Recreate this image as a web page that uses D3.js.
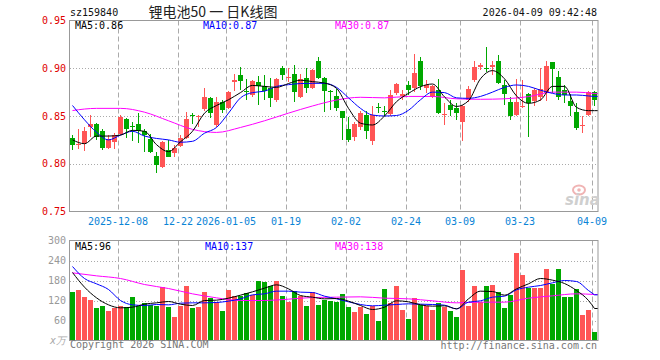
<!DOCTYPE html>
<html>
<meta charset="utf-8" />
<script src="https://d3js.org/d3.v7.min.js"></script>
<style>
  body { margin: 0; background: #fff; }
  text { font-family: "DejaVu Sans Mono", monospace; font-size: 10px; }
</style>
<body>
<svg id="chart" width="660" height="360"></svg>
<script>
// trading days shown on the chart
var dates = [
  "2025-11-26","2025-11-27","2025-11-28","2025-12-01","2025-12-02","2025-12-03","2025-12-04","2025-12-05",
  "2025-12-08","2025-12-09","2025-12-10","2025-12-11","2025-12-12","2025-12-15","2025-12-16","2025-12-17",
  "2025-12-18","2025-12-19","2025-12-22","2025-12-23","2025-12-24","2025-12-25","2025-12-26","2025-12-29",
  "2025-12-30","2025-12-31","2026-01-05","2026-01-06","2026-01-07","2026-01-08","2026-01-09","2026-01-12",
  "2026-01-13","2026-01-14","2026-01-15","2026-01-16","2026-01-19","2026-01-20","2026-01-21","2026-01-22",
  "2026-01-23","2026-01-26","2026-01-27","2026-01-28","2026-01-29","2026-01-30","2026-02-02","2026-02-03",
  "2026-02-04","2026-02-05","2026-02-06","2026-02-09","2026-02-10","2026-02-11","2026-02-12","2026-02-13",
  "2026-02-24","2026-02-25","2026-02-26","2026-02-27","2026-03-02","2026-03-03","2026-03-04","2026-03-05",
  "2026-03-06","2026-03-09","2026-03-10","2026-03-11","2026-03-12","2026-03-13","2026-03-16","2026-03-17",
  "2026-03-18","2026-03-19","2026-03-20","2026-03-23","2026-03-24","2026-03-25","2026-03-26","2026-03-27",
  "2026-03-30","2026-03-31","2026-04-01","2026-04-02","2026-04-03","2026-04-07","2026-04-08","2026-04-09"
]

var open = [0.827,0.820,0.8215,0.839,0.842,0.834,0.817,0.823,0.831,0.847,0.840,0.842,0.834,0.8255,0.808,0.797,
  0.8144,0.811,0.819,0.8273,0.8507,0.849,0.8573,0.8692,0.8406,0.8643,0.858,0.886,0.8929,0.8758,0.872,0.886,
  0.881,0.879,0.8668,0.900,0.8895,0.8945,0.8703,0.8894,0.879,0.9076,0.8901,0.8765,0.871,0.8553,0.8364,0.8284,
  0.8388,0.851,0.8235,0.8595,0.8555,0.852,0.8737,0.871,0.8825,0.879,0.908,0.879,0.8703,0.877,0.8515,0.8615,
  0.8587,0.8441,0.8668,0.8877,0.901,0.9002,0.901,0.9078,0.8825,0.865,0.851,0.860,0.873,0.866,0.870,0.8744,
  0.9069,0.8912,0.8772,0.866,0.8545,0.8405,0.8511,0.8755]
var high = [0.830,0.836,0.839,0.851,0.843,0.836,0.830,0.832,0.851,0.8476,0.844,0.853,0.836,0.831,0.8127,0.824,
  0.825,0.8197,0.830,0.854,0.853,0.851,0.8797,0.8703,0.8703,0.8668,0.876,0.8936,0.901,0.889,0.8877,0.8919,
  0.893,0.890,0.8894,0.9027,0.900,0.903,0.8936,0.900,0.899,0.912,0.891,0.8775,0.878,0.8555,0.849,0.844,
  0.8555,0.8553,0.860,0.8635,0.860,0.8775,0.885,0.8772,0.887,0.915,0.9115,0.8877,0.8825,0.889,0.864,0.8665,
  0.8633,0.862,0.881,0.908,0.906,0.9226,0.908,0.9139,0.8875,0.870,0.889,0.8877,0.874,0.879,0.900,0.908,
  0.907,0.897,0.882,0.873,0.8633,0.850,0.876,0.876]
var low = [0.814,0.815,0.8135,0.828,0.825,0.814,0.815,0.815,0.830,0.827,0.824,0.822,0.8127,0.811,0.790,0.796,
  0.8068,0.8068,0.818,0.826,0.842,0.838,0.8556,0.8476,0.8388,0.8528,0.8573,0.8762,0.8772,0.8668,0.870,0.8615,
  0.867,0.859,0.865,0.8877,0.886,0.865,0.8685,0.8737,0.8783,0.889,0.8546,0.8563,0.855,0.825,0.823,0.8238,
  0.8355,0.8258,0.820,0.853,0.850,0.850,0.872,0.8668,0.872,0.8755,0.8775,0.8737,0.8685,0.852,0.8408,0.850,
  0.846,0.8242,0.865,0.886,0.898,0.8964,0.8925,0.884,0.862,0.846,0.850,0.858,0.828,0.860,0.866,0.866,
  0.874,0.867,0.8633,0.8505,0.8355,0.832,0.850,0.860]
var close = [0.820,0.821,0.834,0.842,0.828,0.817,0.826,0.830,0.8485,0.836,0.8395,0.834,0.830,0.8127,0.799,0.823,
  0.8075,0.816,0.8267,0.8469,0.850,0.8504,0.8696,0.8528,0.865,0.8563,0.8755,0.8877,0.887,0.8752,0.8866,0.8814,
  0.876,0.8685,0.8884,0.8925,0.8905,0.8755,0.8885,0.879,0.8982,0.8901,0.8762,0.875,0.8587,0.8483,0.8249,0.8416,
  0.8528,0.8343,0.851,0.8588,0.855,0.872,0.8832,0.8727,0.8772,0.8947,0.8815,0.8825,0.8818,0.8535,0.8522,0.8565,
  0.8533,0.8605,0.878,0.901,0.9034,0.8996,0.9034,0.885,0.8735,0.850,0.865,0.8608,0.8633,0.877,0.878,0.9024,
  0.899,0.8696,0.872,0.8605,0.837,0.841,0.8755,0.8665]
// volume, in units of 10k
var volume = [147,153,130,123,97,105,90,97,105,100,130,105,113,107,105,160,100,70,103,165,97,100,145,127,
  115,90,153,135,133,142,137,180,175,165,180,133,115,148,135,103,145,108,123,118,117,140,100,87,
  102,81,105,60,156,112,165,93,66,129,107,105,93,112,102,90,72,213,105,165,115,165,168,145,
  99,138,264,198,159,159,159,216,170,216,132,132,156,78,93,27]

// moving averages: ma5/ma10 every 2nd day, ma30 every 4th day, last value on the last day
var ma5 = [0.825,0.821,0.829,0.829,0.830,0.835,0.834,0.820,0.8127,0.823,0.834,0.853,0.861,0.867,0.8745,0.882,
  0.881,0.880,0.884,0.8875,0.886,0.8845,0.879,0.858,0.8425,0.8406,0.850,0.865,0.8737,0.8807,0.8835,0.870,
  0.860,0.866,0.889,0.8975,0.889,0.871,0.8633,0.8668,0.881,0.881,0.859,0.8556,0.8556]
var ma10 = [0.861,0.846,0.833,0.825,0.830,0.834,0.829,0.8265,0.825,0.8225,0.8235,0.832,0.838,0.853,0.869,0.8745,
  0.876,0.881,0.8828,0.884,0.8842,0.8842,0.880,0.869,0.858,0.851,0.850,0.8505,0.856,0.867,0.875,0.8745,
  0.869,0.8685,0.8705,0.875,0.880,0.8825,0.881,0.877,0.8737,0.872,0.872,0.871,0.8705]
var ma30 = [0.8557,0.858,0.858,0.854,0.845,0.836,0.8328,0.838,0.845,0.853,0.8605,0.8667,0.8696,0.869,0.8705,
  0.8705,0.868,0.8675,0.868,0.8703,0.875,0.875,0.8735]
var vma5 = [204,160,128,107,98,100,109,113,117,109,105,120,121,127,136,146,157,167,155,135,130,125,126,118,
  105,93,100,119,116,107,103,104,95,125,148,147,136,155,170,186,181,171,150,120,96]
var vma10 = [222,186,170,153,120,107,105,108,107,112,113,113,114,118,125,137,140,148,148,145,144,133,125,116,
  108,104,106,108,110,109,108,106,95,115,119,130,133,152,160,165,173,180,177,150,137]
var vma30 = [203,194,186,168,156,140,128,120,120,124,129,130,131,127,125,119,113,115,115,127,134,140,138]

// axis ticks
var priceTicks = [0.75, 0.80, 0.85, 0.90, 0.95]
var volTicks = [60, 120, 180, 240, 300]
var tickDates = ["2025-12-08","2025-12-22","2026-01-05","2026-01-19","2026-02-02","2026-02-24","2026-03-09","2026-03-23","2026-04-09"]
var tickLabels = ["2025-12-08","12-22","2026-01-05","01-19","02-02","02-24","03-09","03-23","04-09"]

var RED = "#ff5555", GREEN = "#00a800", GRID = "#aaaaaa"

var svg = d3.select("#chart")

var x = d3.scaleBand().domain(dates).range([70, 597]).paddingInner(1 / 6).paddingOuter(0)
var cx = function(d) { return x(d) + x.bandwidth() / 2 }
var y = d3.scaleLinear().domain([0.75, 0.95]).range([211.5, 20.5])
var yv = d3.scaleLinear().domain([0, 300]).range([340.5, 240.5])
var plotRight = 598

var rows = dates.map(function(d, i) {
  return { date: d, o: open[i], h: high[i], l: low[i], c: close[i], v: volume[i] }
})
var colorOf = function(r) { return r.c >= r.o ? RED : GREEN }

// panel grid
function panel(ys, yTop, yBottom, inner) {
  var g = svg.append("g")
  g.selectAll("line.h").data(inner).enter().append("line")
    .attr("x1", 70).attr("x2", plotRight)
    .attr("y1", function(d) { return Math.round(ys(d)) + 0.5 })
    .attr("y2", function(d) { return Math.round(ys(d)) + 0.5 })
    .attr("stroke", GRID).attr("stroke-dasharray", "1,2")
  g.selectAll("line.v").data(tickDates).enter().append("line")
    .attr("x1", function(d) { return x(d) + 0.5 }).attr("x2", function(d) { return x(d) + 0.5 })
    .attr("y1", yTop).attr("y2", yBottom)
    .attr("stroke", GRID).attr("stroke-dasharray", "5,3")
  return g
}
panel(y, 20.5, 211.5, [0.80, 0.85, 0.90])
panel(yv, 240.5, 340.5, [60, 120, 180, 240])

// candles
var cg = svg.append("g").attr("shape-rendering", "crispEdges")
cg.selectAll("line").data(rows).enter().append("line")
  .attr("x1", function(r) { return Math.floor(cx(r.date)) + 0.5 })
  .attr("x2", function(r) { return Math.floor(cx(r.date)) + 0.5 })
  .attr("y1", function(r) { return y(r.h) }).attr("y2", function(r) { return y(r.l) })
  .attr("stroke", colorOf)
cg.selectAll("rect").data(rows).enter().append("rect")
  .attr("x", function(r) { return x(r.date) })
  .attr("width", x.bandwidth())
  .attr("y", function(r) { return y(Math.max(r.o, r.c)) })
  .attr("height", function(r) { return Math.max(1, Math.abs(y(r.o) - y(r.c))) })
  .attr("fill", colorOf)

// volume bars
svg.append("g").attr("shape-rendering", "crispEdges")
  .selectAll("rect").data(rows).enter().append("rect")
  .attr("x", function(r) { return x(r.date) })
  .attr("width", x.bandwidth())
  .attr("y", function(r) { return yv(r.v) })
  .attr("height", function(r) { return yv(0) - yv(r.v) })
  .attr("fill", colorOf)

// moving average lines, carried flat to the right edge like the original
function maLine(values, step, ys, color) {
  var pts = values.map(function(v, k) {
    return { x: cx(dates[Math.min(k * step, dates.length - 1)]), v: v }
  })
  var line = d3.line()
    .x(function(p) { return p.x })
    .y(function(p) { return ys(p.v) })
    .curve(d3.curveMonotoneX)
  var last = values[values.length - 1]
  svg.append("path").datum(pts)
    .attr("d", line).attr("fill", "none")
    .attr("stroke", color).attr("stroke-width", 1)
  svg.append("line")
    .attr("x1", pts[pts.length - 1].x).attr("x2", plotRight)
    .attr("y1", ys(last)).attr("y2", ys(last))
    .attr("stroke", color).attr("stroke-width", 1)
}
maLine(ma30, 4, y, "#ff00ff")
maLine(ma10, 2, y, "#0000ff")
maLine(ma5, 2, y, "#000000")
maLine(vma30, 4, yv, "#ff00ff")
maLine(vma10, 2, yv, "#0000ff")
maLine(vma5, 2, yv, "#000000")

// frames
svg.append("rect").attr("x", 69.5).attr("y", 20.5).attr("width", 528.5).attr("height", 191)
  .attr("fill", "none").attr("stroke", "#999")
svg.append("rect").attr("x", 69.5).attr("y", 240.5).attr("width", 528.5).attr("height", 100)
  .attr("fill", "none").attr("stroke", "#999")

// axes
var ay = svg.append("g").attr("transform", "translate(70,0)")
  .call(d3.axisLeft(y).tickValues(priceTicks).tickFormat(d3.format(".2f")).tickSize(0).tickPadding(4))
ay.select(".domain").remove()
ay.selectAll("text").attr("fill", "#e00000").style("font-size", "10px").style("font-family", "DejaVu Sans Mono")

var av = svg.append("g").attr("transform", "translate(70,0)")
  .call(d3.axisLeft(yv).tickValues(volTicks).tickSize(0).tickPadding(4))
av.select(".domain").remove()
av.selectAll("text").attr("fill", "#999").style("font-size", "10px").style("font-family", "DejaVu Sans Mono")
svg.append("text").attr("x", 66).attr("y", 344).attr("text-anchor", "end")
  .attr("fill", "#aaa").style("font-style", "italic").text("x万")

var ax = svg.append("g").attr("transform", "translate(" + (-x.bandwidth() / 2) + ",212)")
  .call(d3.axisBottom(x).tickValues(tickDates)
    .tickFormat(function(d, i) { return tickLabels[i] }).tickSize(0).tickPadding(6))
ax.select(".domain").remove()
ax.selectAll("text").attr("fill", "#0a84d6").style("font-size", "10px").style("font-family", "DejaVu Sans Mono")

// header
svg.append("text").attr("x", 70).attr("y", 16).attr("fill", "#111").text("sz159840")
svg.append("text").attr("x", 213).attr("y", 17).attr("text-anchor", "middle").attr("fill", "#222")
  .style("font-family", "Noto Sans CJK SC").style("font-size", "14px").text("锂电池50 一 日K线图")
svg.append("text").attr("x", 597).attr("y", 16).attr("text-anchor", "end").attr("fill", "#111")
  .text("2026-04-09 09:42:48")

// legends
var fmt2 = d3.format(".2f")
svg.append("text").attr("x", 75).attr("y", 29).attr("fill", "#000").text("MA5:" + fmt2(ma5[ma5.length - 1]))
svg.append("text").attr("x", 203).attr("y", 29).attr("fill", "#0000ff").text("MA10:" + fmt2(ma10[ma10.length - 1]))
svg.append("text").attr("x", 335).attr("y", 29).attr("fill", "#ff00ff").text("MA30:" + fmt2(ma30[ma30.length - 1]))
svg.append("text").attr("x", 75).attr("y", 250).attr("fill", "#000").text("MA5:" + vma5[vma5.length - 1])
svg.append("text").attr("x", 205).attr("y", 250).attr("fill", "#0000ff").text("MA10:" + vma10[vma10.length - 1])
svg.append("text").attr("x", 335).attr("y", 250).attr("fill", "#ff00ff").text("MA30:" + vma30[vma30.length - 1])

// watermark
svg.append("ellipse").attr("cx", 579).attr("cy", 190).attr("rx", 6).attr("ry", 4.5)
  .attr("fill", "none").attr("stroke", "#f0b4b4").attr("stroke-width", 2)
svg.append("circle").attr("cx", 579).attr("cy", 190).attr("r", 1.8).attr("fill", "#f0b4b4")
svg.append("text").attr("x", 565).attr("y", 205).attr("fill", "#cfcfcf")
  .style("font-family", "DejaVu Sans").style("font-size", "15px").style("font-weight", "bold")
  .style("font-style", "italic").text("sina")

// footer
svg.append("text").attr("x", 70).attr("y", 348).attr("fill", "#777").text("Copyright 2026 SINA.COM")
svg.append("text").attr("x", 597).attr("y", 349).attr("text-anchor", "end").attr("fill", "#777")
  .text("http://finance.sina.com.cn")
</script>
</body>
</html>
